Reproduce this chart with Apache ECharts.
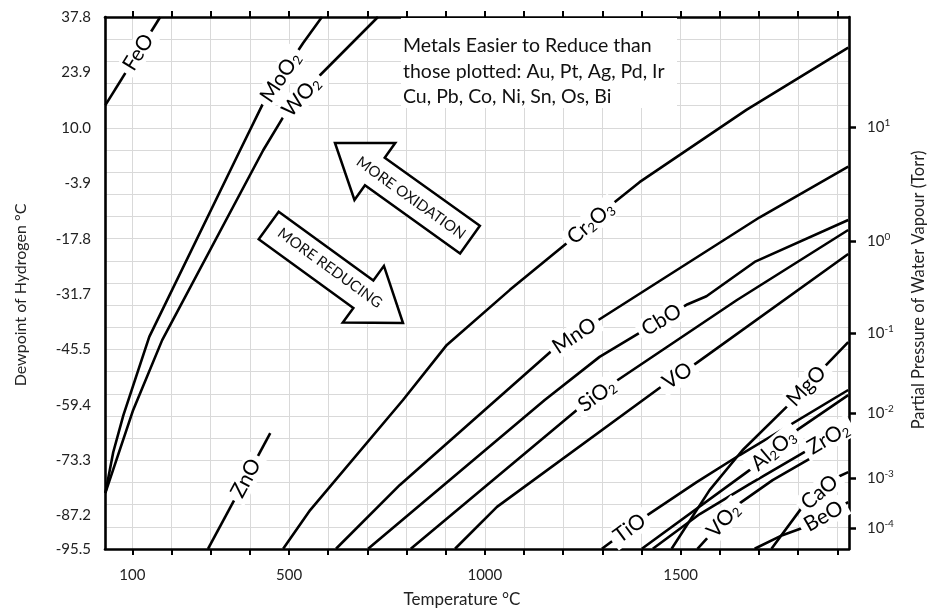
<!DOCTYPE html>
<html><head><meta charset="utf-8">
<script src="https://cdn.jsdelivr.net/npm/echarts@6/dist/echarts.min.js"></script>
<style>html,body{margin:0;padding:0;background:#fff}#c{width:928px;height:609px}</style>
</head><body><div id="c"></div>
<script>
// ---------- data (Temperature °C, Dewpoint of hydrogen °C) ----------
const FeO   = [[31,15.7],[171,37.8]];
const MoO2  = [[31,-81.5],[51,-71.3],[77,-62.0],[143,-42.4],[375,4.4],[434,16.2],[536,31.3],[584,37.8]];
const WO2   = [[31,-81.5],[102,-60.7],[176,-43.2],[434,4.4],[485,12.7],[579,23.2],[727,37.8]];
const ZnO   = [[293,-95.5],[452,-66.5]];
const Cr2O3 = [[485,-95.5],[554,-85.8],[791,-58.2],[903,-44.4],[1064,-30.6],[1209,-18.9],[1332,-8.6],[1395,-3.6],[1668,14.5],[1928,30.1]];
const MnO   = [[620,-95.5],[783,-79.5],[1173,-45.7],[1286,-38.4],[1702,-12.4],[1928,0.3]];
const CbO   = [[702,-95.5],[1153,-58.2],[1293,-47.4],[1395,-41.4],[1518,-34.2],[1566,-32.2],[1689,-23.6],[1928,-13.1]];
const SiO2  = [[811,-95.5],[1235,-60.7],[1332,-53.7],[1643,-33.2],[1928,-15.6]];
const VO    = [[924,-95.5],[1031,-85.0],[1446,-55.2],[1541,-48.9],[1928,-21.6]];
const TiO   = [[1299,-95.5],[1416,-87.0],[1541,-78.8],[1651,-72.0],[1928,-55.7]];
const Al2O3 = [[1401,-95.5],[1676,-75.8],[1798,-65.7],[1928,-57.0]];
const ZrO2  = [[1429,-95.5],[1549,-86.8],[1676,-79.3],[1829,-70.5]];
const MgO   = [[1477,-95.5],[1574,-80.8],[1658,-70.8],[1770,-60.0],[1872,-49.4],[1928,-43.7]];
const VO2   = [[1543,-95.5],[1645,-84.5],[1735,-78.3],[1837,-72.5]];
const CaO   = [[1732,-95.5],[1811,-85.0],[1901,-77.5],[1928,-76.3]];
const BeO   = [[1689,-95.5],[1760,-92.1],[1816,-90.1],[1928,-83.8]];

const oxideNames = ['FeO','MoO2','WO2','ZnO','Cr2O3','MnO','CbO','SiO2','VO','TiO','Al2O3','ZrO2','MgO','VO2','CaO','BeO'];
const oxideLines = {FeO,MoO2,WO2,ZnO,Cr2O3,MnO,CbO,SiO2,VO,TiO,Al2O3,ZrO2,MgO,VO2,CaO,BeO};
const labelTexts = ['FeO','MoO{s|2}','WO{s|2}','ZnO','Cr{s|2}O{s|3}','MnO','CbO','SiO{s|2}','VO','TiO','Al{s|2}O{s|3}','ZrO{s|2}','MgO','VO{s|2}','CaO','BeO'];
const labelTemps  = [115, 478, 531, 390, 1270, 1229, 1451, 1286, 1492, 1370, 1737, 1877, 1821, 1609, 1855, 1865];

const xTicks = [100,200,300,400,500,600,700,800,900,1000,1100,1200,1300,1400,1500,1600,1700,1800,1900];
const xTickLabels = [100,500,1000,1500];
const leftTicks = [37.8, 23.9, 10.0, -3.9, -17.8, -31.7, -45.5, -59.4, -73.3, -87.2, -95.5];
const rightTickDewpoints = [10.2, -18.4, -41.4, -61.5, -77.8, -90.3];
const rightTickExponents = ['1','0','-1','-2','-3','-4'];
const noteLines = ['Metals Easier to Reduce than','those plotted: Au, Pt, Ag, Pd, Ir','Cu, Pb, Co, Ni, Sn, Os, Bi'];

// ---------- chart ----------
const FONT = 'Lato, "Noto Sans", sans-serif';
const TXT = '#222';
const chart = echarts.init(document.getElementById('c'), null, {renderer:'canvas'});

const lineSeries = oxideNames.map(n => ({
  type:'line', name:n, data:oxideLines[n], xAxisIndex:0, yAxisIndex:0,
  symbol:'none', silent:true, z:3, clip:true,
  lineStyle:{color:'#000', width:2.6}
}));

function arrowPts(tip, angDeg){
  const a = angDeg*Math.PI/180, ux=Math.cos(a), uy=Math.sin(a), nx=-uy, ny=ux;
  const L=166, HL=49, HW=35, BW=17;
  const P=(s,n)=>[tip[0]+ux*s+nx*n, tip[1]+uy*s+ny*n];
  return [P(0,0),P(HL,HW),P(HL,BW),P(L,BW),P(L,-BW),P(HL,-BW),P(HL,-HW)];
}

const graphics = [
  {type:'rect', silent:true, z:50, shape:{x:401,y:18,width:276,height:90}, style:{fill:'#fff'}},
  {type:'text', silent:true, z:51, x:403, y:33, style:{text:noteLines.join('\n'), font:'19.5px '+FONT, fill:'#111', lineHeight:25.5, align:'left', verticalAlign:'top'}},
  {type:'polygon', silent:true, z:50, shape:{points:arrowPts([335,143],35.6)}, style:{fill:'#fff', stroke:'#000', lineWidth:2.5, lineJoin:'miter'}},
  {type:'text', silent:true, z:51, x:411, y:198, rotation:-35.6*Math.PI/180, style:{text:'MORE OXIDATION', font:'15px '+FONT, fill:'#111', align:'center', verticalAlign:'middle'}},
  {type:'polygon', silent:true, z:50, shape:{points:arrowPts([403,323],216)}, style:{fill:'#fff', stroke:'#000', lineWidth:2.5, lineJoin:'miter'}},
  {type:'text', silent:true, z:51, x:330, y:268, rotation:-36*Math.PI/180, style:{text:'MORE REDUCING', font:'15px '+FONT, fill:'#111', align:'center', verticalAlign:'middle'}}
];

const axisLine = {show:true, onZero:false, lineStyle:{color:'#000', width:2.6}};
const option = {
  animation:false,
  backgroundColor:'#fff',
  grid:{left:105, right:79, top:17, bottom:60, containLabel:false, outerBoundsMode:'none'},
  xAxis:[
    {type:'value', min:30, max:1930, position:'bottom',
     name:'Temperature °C', nameLocation:'middle', nameGap:42,
     nameTextStyle:{fontFamily:FONT, fontSize:17, color:TXT, padding:[0,30,0,0]},
     axisLine:axisLine,
     axisTick:{show:true, customValues:xTicks, length:6, lineStyle:{color:'#000', width:2}},
     axisLabel:{customValues:xTickLabels, formatter:v=>String(v), margin:19, fontFamily:FONT, fontSize:15, color:TXT},
     splitLine:{show:true, lineStyle:{color:'#d9d9d9', width:1}}},
    {type:'value', min:30, max:1930, position:'top',
     axisLine:axisLine,
     axisTick:{show:true, customValues:xTicks, length:6, lineStyle:{color:'#000', width:2}},
     axisLabel:{show:false}, splitLine:{show:false}}
  ],
  yAxis:[
    {type:'value', min:-95.56, max:37.8, position:'left',
     name:'Dewpoint of Hydrogen °C', nameLocation:'middle', nameGap:76,
     nameTextStyle:{fontFamily:FONT, fontSize:16, color:TXT, padding:[0,24,0,0]},
     axisLine:axisLine, axisTick:{show:false},
     axisLabel:{customValues:leftTicks, formatter:v=>v.toFixed(1), margin:14, fontFamily:FONT, fontSize:15, color:TXT},
     splitLine:{show:false}},
    {type:'value', min:-95.56, max:37.8, position:'right',
     name:'Partial Pressure of Water Vapour (Torr)', nameLocation:'middle', nameGap:61,
     nameTextStyle:{fontFamily:FONT, fontSize:16.5, color:TXT, padding:[0,14,0,0]},
     axisLine:axisLine,
     axisTick:{show:true, customValues:rightTickDewpoints, length:7, lineStyle:{color:'#000', width:2.5}},
     axisLabel:{customValues:rightTickDewpoints, margin:18,
       formatter:v=>{let i=0,b=1e9;rightTickDewpoints.forEach((d,k)=>{if(Math.abs(d-v)<b){b=Math.abs(d-v);i=k;}});return '{b|10}{s|'+rightTickExponents[i]+'}';},
       rich:{b:{fontFamily:FONT, fontSize:15, color:TXT, lineHeight:18}, s:{fontFamily:FONT, fontSize:10, color:TXT, lineHeight:18, verticalAlign:'top'}}},
     splitLine:{show:false}},
    {type:'value', min:-140, max:100, interval:10, position:'left',
     axisLine:{show:false}, axisTick:{show:false}, axisLabel:{show:false},
     splitLine:{show:true, lineStyle:{color:'#d9d9d9', width:1}}}
  ],
  series: lineSeries,
  graphic: graphics
};
chart.setOption(option);

// ---------- inline labels, rotated along their line ----------
function segmentAt(pts, t){
  let i = -1;
  for (let k=0;k<pts.length-1;k++){ if (t>=pts[k][0] && t<=pts[k+1][0]) { i=k; break; } }
  if (i<0) i = t < pts[0][0] ? 0 : pts.length-2;
  const a=pts[i], b=pts[i+1], f=(t-a[0])/(b[0]-a[0]);
  return {a, b, y:a[1]+f*(b[1]-a[1])};
}
const labelData = oxideNames.map((n,i)=>{
  const s = segmentAt(oxideLines[n], labelTemps[i]);
  const pa = chart.convertToPixel({seriesIndex:0}, s.a);
  const pb = chart.convertToPixel({seriesIndex:0}, s.b);
  const ang = Math.atan2(pa[1]-pb[1], pb[0]-pa[0])*180/Math.PI;
  return {value:[labelTemps[i], s.y], label:{rotate:ang, formatter:labelTexts[i]}};
});
chart.setOption({series: lineSeries.concat([{
  type:'scatter', data:labelData, xAxisIndex:0, yAxisIndex:0, z:6, silent:true,
  symbol:'circle', symbolSize:1, itemStyle:{color:'rgba(0,0,0,0)'},
  label:{show:true, position:'inside', color:'#000', opacity:1, textBorderWidth:0, fontFamily:FONT, fontSize:21, lineHeight:23,
    backgroundColor:'#fff', padding:[0,5,0,5],
    rich:{s:{fontFamily:FONT, fontSize:13, color:'#000', textBorderWidth:0, lineHeight:23, verticalAlign:'bottom'}}}
}])});
</script></body></html>
